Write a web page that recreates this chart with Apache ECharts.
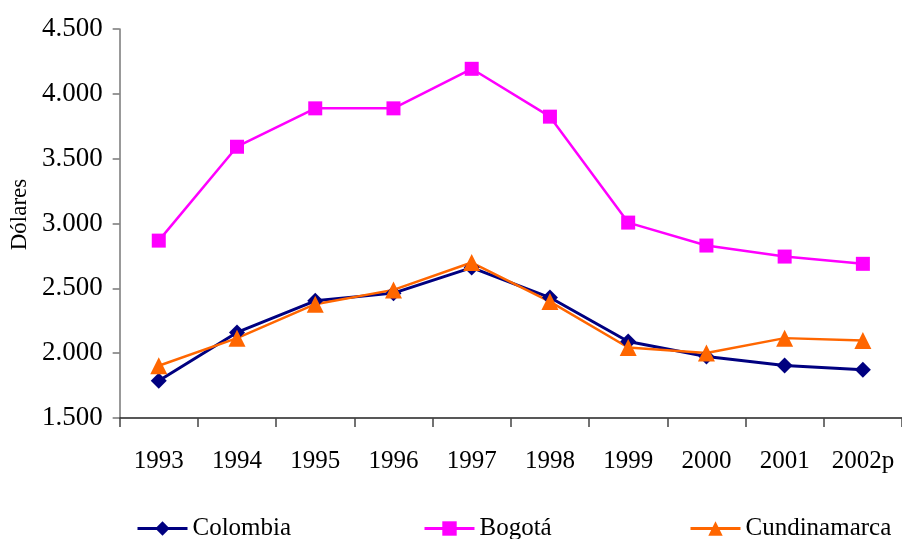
<!DOCTYPE html>
<html>
<head>
<meta charset="utf-8">
<script src="https://cdn.jsdelivr.net/npm/echarts@6/dist/echarts.min.js"></script>
<style>html,body{margin:0;padding:0;background:#fff}#chart{width:902px;height:539px}</style>
</head>
<body>
<div id="chart"></div>
<script>
const categories = ['1993','1994','1995','1996','1997','1998','1999','2000','2001','2002p'];
const colombia = [1787, 2160, 2404, 2463, 2660, 2429, 2090, 1975, 1905, 1872];
const bogota = [2868, 3592, 3888, 3888, 4193, 3824, 3007, 2830, 2745, 2689];
const cundinamarca = [1903, 2116, 2378, 2488, 2699, 2398, 2044, 2001, 2116, 2098];
const yMin = 1500, yMax = 4500, yStep = 500;

const FONT = 'Liberation Serif';
const chart = echarts.init(document.getElementById('chart'));
function fmt(v){ return String(v).replace(/\B(?=(\d{3})+(?!\d))/g, '.'); }
const legendBase = {
  top: 511, itemWidth: 50, itemHeight: 18, itemGap: 6,
  lineStyle: { width: 3 },
  textStyle: { fontFamily: FONT, fontSize: 25, color: '#000' }
};
chart.setOption({
  animation: false,
  backgroundColor: '#fff',
  grid: { left: 118, right: 0, top: 29, bottom: 121, containLabel: false },
  legend: [
    Object.assign({ left: 131, data: ['Colombia'] }, legendBase),
    Object.assign({ left: 418, data: ['Bogotá'] }, legendBase),
    Object.assign({ left: 684, data: ['Cundinamarca'] }, legendBase)
  ],
  xAxis: {
    type: 'category', data: categories, boundaryGap: true,
    axisLine: { lineStyle: { color: '#222', width: 1.5 } },
    axisTick: { show: true, length: 9, interval: 0, lineStyle: { color: '#444', width: 1.5 } },
    axisLabel: { fontFamily: FONT, fontSize: 25, color: '#000', margin: 31, interval: 0 }
  },
  yAxis: {
    type: 'value', min: yMin, max: yMax, interval: yStep,
    name: 'Dólares', nameLocation: 'middle', nameGap: 80, nameRotate: 90,
    nameTextStyle: { fontFamily: FONT, fontSize: 23, color: '#000', padding: [0, 0, 0, 18] },
    axisLine: { show: true, lineStyle: { color: '#777', width: 1.5 } },
    axisTick: { show: true, length: 7, lineStyle: { color: '#777', width: 1.5 } },
    splitLine: { show: false },
    axisLabel: { fontFamily: FONT, fontSize: 27, color: '#000', margin: 17, formatter: fmt }
  },
  series: [
    { name: 'Colombia', type: 'line', data: colombia, symbol: 'diamond', symbolSize: 16,
      lineStyle: { color: '#000080', width: 3 }, itemStyle: { color: '#000080' } },
    { name: 'Bogotá', type: 'line', data: bogota, symbol: 'rect', symbolSize: 14,
      lineStyle: { color: '#FF00FF', width: 2.5 }, itemStyle: { color: '#FF00FF' } },
    { name: 'Cundinamarca', type: 'line', data: cundinamarca, symbol: 'triangle', symbolSize: 17,
      lineStyle: { color: '#FF6600', width: 2.5 }, itemStyle: { color: '#FF6600' } }
  ]
});
</script>
</body>
</html>
